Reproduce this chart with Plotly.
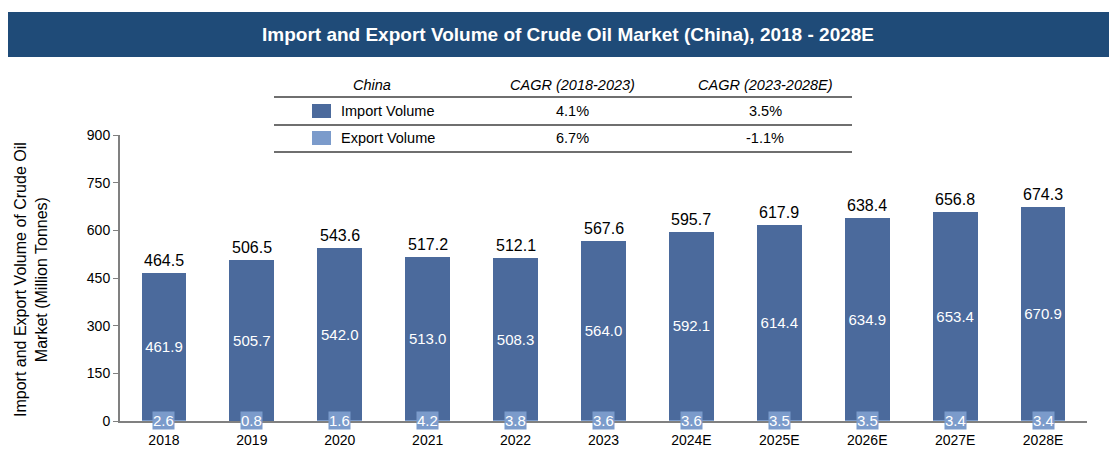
import plotly.graph_objects as go

years = ["2018", "2019", "2020", "2021", "2022", "2023", "2024E", "2025E", "2026E", "2027E", "2028E"]
import_vol = [461.9, 505.7, 542.0, 513.0, 508.3, 564.0, 592.1, 614.4, 634.9, 653.4, 670.9]
export_vol = [2.6, 0.8, 1.6, 4.2, 3.8, 3.6, 3.6, 3.5, 3.5, 3.4, 3.4]
totals = [464.5, 506.5, 543.6, 517.2, 512.1, 567.6, 595.7, 617.9, 638.4, 656.8, 674.3]

table_header = ["China", "CAGR (2018-2023)", "CAGR (2023-2028E)"]
series_names = ["Import Volume", "Export Volume"]
cagr_1 = ["4.1%", "6.7%"]
cagr_2 = ["3.5%", "-1.1%"]

IMP_COLOR = "#4B6A9C"
EXP_COLOR = "#7B9BCB"
FONT = "Liberation Sans, Arial, sans-serif"

W, H = 1109, 453
L, R, T, B = 120, 22, 135, 32
pw, ph = W - L - R, H - T - B


def px(x):
    return (x - L) / pw


def py(y):
    return (H - B - y) / ph


def paper_text(x, y, text, size, color="black", xanchor="center", angle=0):
    return dict(xref="paper", yref="paper", x=px(x), y=py(y), text=text, showarrow=False,
                xanchor=xanchor, yanchor="middle", textangle=angle,
                font=dict(size=size, color=color, family=FONT))


idx = list(range(len(years)))

fig = go.Figure()
fig.add_trace(go.Bar(x=idx, y=export_vol, marker=dict(color=EXP_COLOR, line=dict(width=0)),
                     name="Export Volume", hoverinfo="skip"))
fig.add_trace(go.Bar(x=idx, y=import_vol, marker=dict(color=IMP_COLOR, line=dict(width=0)),
                     name="Import Volume", text=[f"{v:.1f}" for v in import_vol],
                     textposition="inside", insidetextanchor="middle", textangle=0,
                     textfont=dict(color="white", size=15, family=FONT), hoverinfo="skip"))

annotations = []
for i, t in zip(idx, totals):
    annotations.append(dict(x=i, y=t, xref="x", yref="y", text=f"{t:.1f}", showarrow=False,
                            xanchor="center", yanchor="bottom", yshift=2,
                            font=dict(size=16, color="black", family=FONT)))
for i, e in zip(idx, export_vol):
    annotations.append(dict(x=i, y=0, xref="x", yref="y", text=f"{e:.1f}", showarrow=False,
                            xanchor="center", yanchor="middle", yshift=1, bgcolor=EXP_COLOR, borderpad=0,
                            font=dict(size=15, color="white", family=FONT)))

# Title banner
shapes = [dict(type="rect", xref="paper", yref="paper", x0=px(8), x1=px(1109), y0=py(57), y1=py(12),
               fillcolor="#1F4B78", line=dict(width=0), layer="above")]
annotations.append(paper_text(568, 34,
                              "<b>Import and Export Volume of Crude Oil Market (China), 2018 - 2028E</b>",
                              19, color="white"))

# Y axis title (as rotated annotation)
annotations.append(paper_text(31, 280, "Import and Export Volume of Crude Oil<br>Market (Million Tonnes)",
                              16, angle=-90))

# CAGR table
col_x = [372, 572, 765]
for cx, h in zip(col_x, table_header):
    annotations.append(paper_text(cx, 85, f"<i>{h}</i>", 14.5))
row_y = [111, 138]
colors = [IMP_COLOR, EXP_COLOR]
for ry, name, c1, c2, col in zip(row_y, series_names, cagr_1, cagr_2, colors):
    shapes.append(dict(type="rect", xref="paper", yref="paper", x0=px(312), x1=px(331),
                       y0=py(ry + 7), y1=py(ry - 7), fillcolor=col, line=dict(width=0)))
    annotations.append(paper_text(339, ry, name, 14.5, xanchor="left"))
    annotations.append(paper_text(col_x[1], ry, c1, 14.5))
    annotations.append(paper_text(col_x[2], ry, c2, 14.5))
for ly in [97, 125, 152]:
    shapes.append(dict(type="line", xref="paper", yref="paper", x0=px(274), x1=px(852),
                       y0=py(ly), y1=py(ly), line=dict(color="#6F6F6F", width=2)))

fig.update_layout(
    width=W, height=H,
    margin=dict(l=L, r=R, t=T, b=B, autoexpand=False),
    barmode="stack", bargap=0.49,
    showlegend=False,
    plot_bgcolor="white", paper_bgcolor="white",
    font=dict(family=FONT, size=14, color="black"),
    xaxis=dict(tickmode="array", tickvals=idx, ticktext=years, showline=True, linecolor="#808080",
               linewidth=2, ticks="outside", ticklen=5, tickcolor="rgba(0,0,0,0)",
               tickfont=dict(size=14, family=FONT), showgrid=False,
               range=[-0.5, 10.5], zeroline=False),
    yaxis=dict(range=[0, 900], tickvals=[0, 150, 300, 450, 600, 750, 900], showline=True,
               linecolor="#808080", linewidth=2, ticks="outside", ticklen=5, tickcolor="#808080",
               showgrid=False, zeroline=False, tickfont=dict(size=14, family=FONT)),
    shapes=shapes,
    annotations=annotations,
    uniformtext=dict(minsize=8, mode="show"),
)

fig.write_html("out.html", config={"displayModeBar": False},
               post_script="document.body.style.margin='0px';")
